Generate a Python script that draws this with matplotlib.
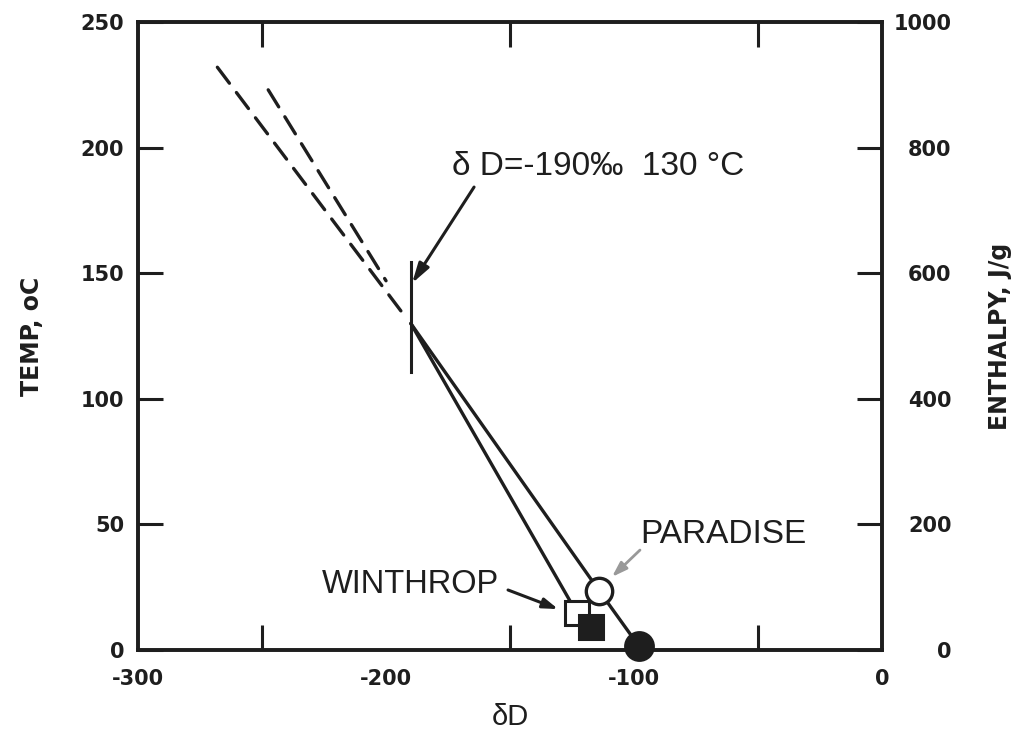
import matplotlib
matplotlib.use("Agg")
import matplotlib.pyplot as plt

# ---- data ----
# solid line through PARADISE samples (deep fluid -> open circle -> filled circle)
paradise_dD = [-190, -114, -98]
paradise_T = [130, 23.5, 1.5]
# solid line to WINTHROP samples
winthrop_dD = [-190, -123]
winthrop_T = [130, 14.7]
# dashed extrapolations above the junction
dash1_dD = [-268, -194]
dash1_T = [232, 135]
dash2_dD = [-247.5, -200]
dash2_T = [223, 147]
# vertical bar marking dD = -190
vbar_dD = [-190, -190]
vbar_T = [110.5, 154.5]

# sample markers
open_circle = (-114, 23.5)
filled_circle = (-98, 1.5)
open_square = (-123, 14.7)
filled_square = (-117.5, 9.2)

x_ticks = [-300, -200, -100, 0]
x_minor = [-250, -200, -150, -100, -50]
y_ticks = [0, 50, 100, 150, 200, 250]
h_ticks = [0, 200, 400, 600, 800, 1000]

INK = "#1e1e1e"

# ---- figure ----
fig = plt.figure(figsize=(10.17, 7.44), dpi=100)
ax = fig.add_axes([0.1357, 0.1263, 0.7316, 0.8441])

lw = 2.4
ax.plot(paradise_dD, paradise_T, color=INK, lw=lw, solid_capstyle="round", zorder=2)
ax.plot(winthrop_dD, winthrop_T, color=INK, lw=lw, solid_capstyle="round", zorder=2)
ax.plot(dash1_dD, dash1_T, color=INK, lw=lw, ls=(0, (6, 3.5)), dash_capstyle="round", zorder=2)
ax.plot(dash2_dD, dash2_T, color=INK, lw=lw, ls=(0, (6, 3.5)), dash_capstyle="round", zorder=2)
ax.plot(vbar_dD, vbar_T, color=INK, lw=2.2, zorder=2)

ax.plot(*open_square, marker="s", ms=17, mfc="white", mec=INK, mew=2.2, zorder=3, clip_on=False)
ax.plot(*filled_square, marker="s", ms=17, mfc=INK, mec=INK, mew=2.2, zorder=4, clip_on=False)
ax.plot(*open_circle, marker="o", ms=19, mfc="white", mec=INK, mew=2.4, zorder=4, clip_on=False)
ax.plot(*filled_circle, marker="o", ms=20, mfc=INK, mec=INK, mew=2.2, zorder=5, clip_on=False)

ax.set_xlim(-300, 0)
ax.set_ylim(0, 250)

txtfont = "Liberation Sans"
ax.text(-173.4, 189, "δ D=-190‰  130 °C", fontsize=24, family=txtfont, color=INK,
        ha="left", va="baseline")
ax.annotate("", xy=(-189.5, 146), xytext=(-164.5, 184.3),
            arrowprops=dict(arrowstyle="-|>,head_length=1.2,head_width=0.35", color=INK,
                            lw=2.2, shrinkA=0, shrinkB=0))

ax.text(-97.6, 42.6, "PARADISE", fontsize=24, family=txtfont, color=INK, ha="left", va="baseline")
ax.annotate("", xy=(-108.9, 29.1), xytext=(-97.6, 39.8),
            arrowprops=dict(arrowstyle="-|>,head_length=0.9,head_width=0.3", color="#999999",
                            lw=2.0, shrinkA=0, shrinkB=0))
ax.text(-225.8, 22.7, "WINTHROP", fontsize=23.5, family=txtfont, color=INK, ha="left", va="baseline")
ax.annotate("", xy=(-130.6, 16.3), xytext=(-150.8, 23.9),
            arrowprops=dict(arrowstyle="-|>,head_length=0.9,head_width=0.3", color=INK,
                            lw=2.2, shrinkA=0, shrinkB=0))

# ticks
tickfont = dict(family="DejaVu Sans", weight="bold", size=15)
ax.set_xticks(x_minor, minor=True)
ax.set_xticks(x_ticks)
ax.set_xticklabels([str(v) for v in x_ticks], fontdict=tickfont, color=INK)
ax.set_yticks(y_ticks)
ax.set_yticklabels([str(v) for v in y_ticks], fontdict=tickfont, color=INK)
ax.tick_params(axis="x", which="major", length=0, pad=14)
ax.tick_params(axis="x", which="minor", direction="in", length=18, width=2.2, top=True, bottom=True, color=INK)
ax.tick_params(axis="y", which="major", direction="in", length=18, width=2.2, left=True, right=False, pad=10, color=INK)
for s in ax.spines.values():
    s.set_linewidth(2.6)
    s.set_color(INK)

ax2 = ax.twinx()
ax2.set_ylim(0, 1000)
ax2.set_yticks(h_ticks)
ax2.set_yticklabels([str(v) for v in h_ticks], fontdict=tickfont, color=INK)
ax2.tick_params(axis="y", direction="in", length=18, width=2.2, pad=50, color=INK)
for lab in ax2.get_yticklabels():
    lab.set_horizontalalignment("right")
for s in ax2.spines.values():
    s.set_linewidth(2.6)
    s.set_color(INK)

labfont = dict(family="DejaVu Sans", weight="bold", size=17)
ax.set_ylabel("TEMP, oC", fontdict=labfont, color=INK, labelpad=26)
ax2.set_ylabel("ENTHALPY, J/g", fontdict=labfont, color=INK, labelpad=26)
ax.set_xlabel("δD", fontsize=21, family=txtfont, color=INK, labelpad=10)

fig.savefig("out.png", dpi=100)
